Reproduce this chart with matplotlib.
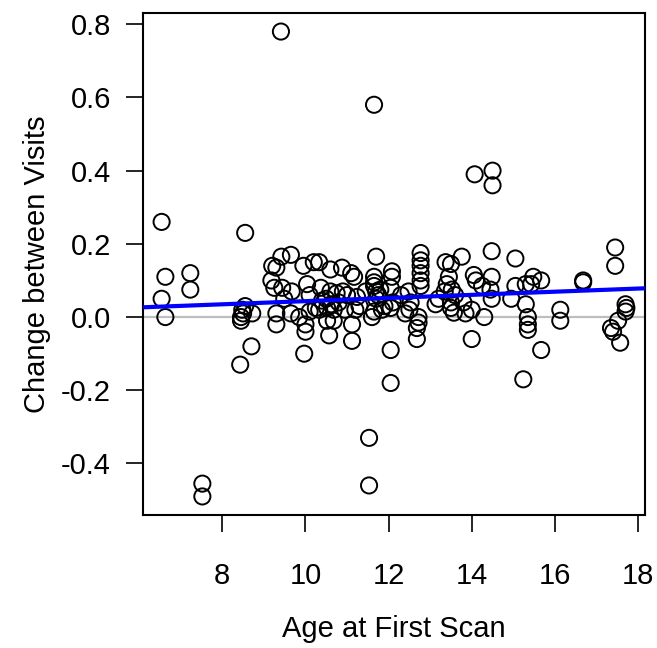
import numpy as np
import matplotlib
matplotlib.use("Agg")
import matplotlib.pyplot as plt

# age at first scan vs change between visits
age = [
    6.54, 6.54, 6.63, 6.63, 7.23, 7.23, 7.52, 7.52,
    8.55, 8.43, 8.70, 8.45, 8.45, 8.50, 8.55, 8.48, 8.72,
    9.20, 9.30, 9.42, 9.41, 9.65, 9.95, 10.20, 9.18, 9.25, 9.44, 9.67,
    10.04, 10.10, 9.49, 9.30, 9.30, 9.65, 9.85, 10.00, 10.00, 9.97, 10.10, 10.25,
    10.33, 10.60, 10.88, 11.10, 11.17, 11.70, 11.65, 11.65, 11.65, 11.65,
    12.08, 12.08, 12.05, 10.37, 10.60, 10.75, 11.00, 11.24,
    10.33, 10.52, 10.68, 10.95, 11.20, 11.65, 11.84, 12.05, 11.60,
    10.52, 10.68, 10.57, 11.12, 11.12, 12.05, 12.05, 11.53, 11.53,
    10.50, 10.80, 10.90, 11.70, 11.75, 11.80, 11.70, 11.30, 12.10, 12.30,
    12.50, 10.40, 10.62, 11.45, 11.90,
    12.77, 12.77, 12.77, 12.77, 12.77, 12.77, 12.48, 12.53, 12.72, 12.72,
    12.68, 12.68, 12.40, 13.13, 13.37, 13.50, 13.76, 13.45, 13.40, 13.52,
    13.50, 13.50, 13.57, 13.80, 13.85, 14.05, 14.10, 14.25, 14.00, 14.30,
    13.60, 13.35, 14.00, 13.20,
    14.07, 14.50, 14.50, 14.48, 15.05, 14.48, 14.45, 14.48, 15.05, 14.95,
    15.30, 15.48, 15.43, 15.67, 15.30, 15.35, 15.35, 15.35, 16.13, 16.13,
    15.67, 15.24, 16.68, 16.68, 17.45, 17.45, 17.70, 17.72, 17.70, 17.35,
    17.40, 17.57, 17.52,
]
change = [
    0.26, 0.05, 0.11, 0.00, 0.12, 0.075, -0.455, -0.49,
    0.23, -0.13, -0.08, 0.00, -0.01, 0.01, 0.03, 0.02, 0.01,
    0.14, 0.135, 0.165, 0.78, 0.17, 0.14, 0.15, 0.10, 0.08, 0.08, 0.07,
    0.09, 0.06, 0.05, 0.01, -0.02, 0.01, 0.00, -0.02, -0.04, -0.10, 0.015, 0.025,
    0.15, 0.13, 0.135, 0.12, 0.11, 0.165, 0.11, 0.095, 0.085, 0.58,
    0.125, 0.11, 0.08, 0.08, 0.07, 0.065, 0.06, 0.055,
    0.02, 0.025, 0.02, 0.02, 0.02, 0.015, 0.02, 0.025, 0.00,
    -0.01, -0.01, -0.05, -0.02, -0.065, -0.09, -0.18, -0.33, -0.46,
    0.05, 0.04, 0.07, 0.07, 0.06, 0.075, 0.05, 0.03, 0.04, 0.06,
    0.02, 0.045, 0.035, 0.07, 0.03,
    0.175, 0.155, 0.14, 0.12, 0.10, 0.085, 0.07, 0.04, 0.00, -0.015,
    -0.03, -0.06, 0.01, 0.035, 0.15, 0.145, 0.165, 0.11, 0.09, 0.075,
    0.04, 0.025, 0.012, 0.04, 0.01, 0.115, 0.10, 0.085, -0.06, 0.00,
    0.06, 0.07, 0.02, 0.05,
    0.39, 0.40, 0.36, 0.18, 0.16, 0.11, 0.075, 0.05, 0.085, 0.05,
    0.09, 0.11, 0.09, 0.10, 0.035, 0.00, -0.02, -0.035, 0.02, -0.01,
    -0.09, -0.17, 0.10, 0.095, 0.19, 0.14, 0.035, 0.025, 0.015, -0.03,
    -0.04, -0.07, -0.01,
]

# fitted line (intercept, slope) as drawn in the reference
fit_intercept = 0.0005
fit_slope = 0.0043

plt.rcParams['font.family'] = ['Liberation Sans', 'DejaVu Sans']

fig = plt.figure(figsize=(6.57, 6.48), dpi=100)
ax = fig.add_axes([0.2177, 0.2052, 0.7640, 0.7748])

ax.axhline(0, color='#bebebe', lw=1.6, zorder=1)
ax.scatter(age, change, s=135, facecolors='none', edgecolors='black',
           linewidths=1.4, zorder=2)
ax.axline((0, fit_intercept), slope=fit_slope, color='#0000ff', lw=3, zorder=3)

# R-style 4% padding
xr = max(age) - min(age)
yr = max(change) - min(change)
ax.set_xlim(min(age) - 0.04 * xr, max(age) + 0.04 * xr)
ax.set_ylim(min(change) - 0.04 * yr, max(change) + 0.04 * yr)

ax.set_xticks([8, 10, 12, 14, 16, 18])
ax.set_yticks([-0.4, -0.2, 0.0, 0.2, 0.4, 0.6, 0.8])
ax.set_yticklabels(['-0.4', '-0.2', '0.0', '0.2', '0.4', '0.6', '0.8'])
ax.tick_params(direction='out', length=12, width=1.2, labelsize=21)
ax.tick_params(axis='x', pad=22)
ax.tick_params(axis='y', pad=11)
for sp in ax.spines.values():
    sp.set_linewidth(1.5)

ax.set_xlabel('Age at First Scan', fontsize=21, labelpad=18)
ax.set_ylabel('Change between Visits', fontsize=21, labelpad=7)

fig.savefig('out.png', dpi=100)
